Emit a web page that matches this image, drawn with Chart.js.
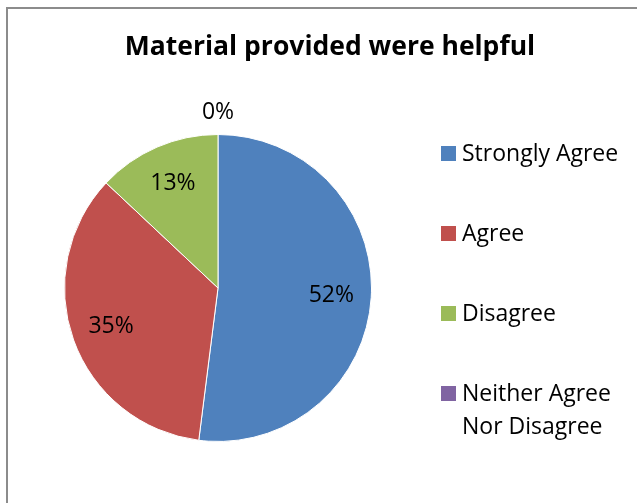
<!DOCTYPE html>
<html>
<head>
<meta charset="utf-8">
<script src="https://cdn.jsdelivr.net/npm/chart.js@4.4.1/dist/chart.umd.min.js"></script>
<style>
  html, body { margin: 0; padding: 0; background: #fff; }
  #wrap { position: relative; width: 637px; height: 503px; }
</style>
</head>
<body>
<div id="wrap"><canvas id="pie" width="637" height="503"></canvas></div>
<script>
// survey answers, share of respondents in percent
const categories = ['Strongly Agree', 'Agree', 'Disagree', 'Neither Agree Nor Disagree'];
const legendLines = [['Strongly Agree'], ['Agree'], ['Disagree'], ['Neither Agree', 'Nor Disagree']];
const values = [52, 35, 13, 0];
const colors = ['#4F81BD', '#C0504D', '#9BBB59', '#8064A2'];
const titleText = 'Material provided were helpful';

const FONT = '"Open Sans", Lato, sans-serif';

// frame, title and legend drawn around the pie
const decorations = {
  id: 'decorations',
  afterDraw(chart) {
    const ctx = chart.ctx;
    ctx.save();
    ctx.strokeStyle = '#8c8c8c';
    ctx.lineWidth = 2;
    ctx.strokeRect(7, 8, 700, 600);

    ctx.fillStyle = '#000';
    ctx.font = 'bold 26.5px ' + FONT;
    ctx.textAlign = 'center';
    ctx.textBaseline = 'middle';
    ctx.fillText(titleText, 330, 47);

    ctx.font = '23px ' + FONT;
    ctx.textAlign = 'left';
    const rowTop = 153, rowGap = 80, lineGap = 33;
    legendLines.forEach((lines, i) => {
      const y = rowTop + i * rowGap;
      ctx.fillStyle = colors[i];
      ctx.fillRect(441, y - 7, 15, 15);
      ctx.fillStyle = '#000';
      lines.forEach((t, j) => ctx.fillText(t, 462, y + 1 + j * lineGap));
    });
    ctx.restore();
  }
};

// percentage labels on each slice
const sliceLabels = {
  id: 'sliceLabels',
  afterDatasetsDraw(chart) {
    const ctx = chart.ctx;
    const meta = chart.getDatasetMeta(0);
    ctx.save();
    ctx.font = '23px ' + FONT;
    ctx.fillStyle = '#000';
    ctx.textAlign = 'center';
    ctx.textBaseline = 'middle';
    meta.data.forEach((arc, i) => {
      const p = arc.getProps(['x', 'y', 'startAngle', 'endAngle', 'outerRadius'], true);
      const v = chart.data.datasets[0].data[i];
      const mid = (p.startAngle + p.endAngle) / 2;
      const r = v === 0 ? p.outerRadius + 22 : p.outerRadius * 0.74;
      ctx.fillText(v + '%', p.x + Math.cos(mid) * r, p.y + Math.sin(mid) * r);
    });
    ctx.restore();
  }
};

new Chart(document.getElementById('pie'), {
  type: 'pie',
  data: {
    labels: categories,
    datasets: [{
      data: values,
      backgroundColor: colors,
      borderColor: '#fff',
      borderWidth: 1
    }]
  },
  options: {
    responsive: false,
    animation: false,
    layout: { padding: { left: 64, right: 265, top: 134, bottom: 61 } },
    plugins: {
      legend: { display: false },
      title: { display: false },
      tooltip: { enabled: false }
    }
  },
  plugins: [sliceLabels, decorations]
});
</script>
</body>
</html>
